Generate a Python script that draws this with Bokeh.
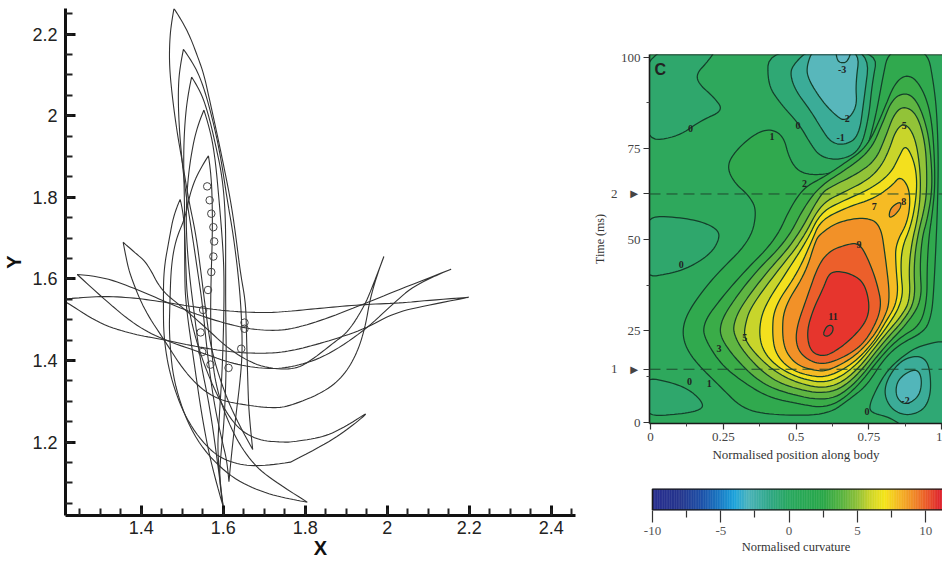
from bokeh.plotting import figure
from bokeh.layouts import row, column
from bokeh.models import SingleIntervalTicker, FixedTicker, NumeralTickFormatter, Span, LinearAxis
from bokeh.embed import file_html
from bokeh.resources import INLINE
from bokeh.core.properties import value

# ---------- left panel: body outlines (x, y), one list per outline ----------
a_x = [1.480,1.500,1.520,1.537,1.553,1.569,1.585,1.602,1.618,1.630,1.642,1.655,1.657,1.660,1.663,1.672,1.630,1.594,1.569,1.557,1.545,1.533,1.516,1.504,1.488,1.476,1.469,1.469,1.473]
a_y = [2.263,2.232,2.192,2.147,2.102,2.029,1.956,1.874,1.793,1.712,1.614,1.542,1.460,1.347,1.265,1.182,1.257,1.347,1.436,1.525,1.623,1.712,1.793,1.866,1.956,2.045,2.118,2.175,2.224]
b_x = [1.503,1.529,1.553,1.577,1.594,1.610,1.624,1.636,1.644,1.647,1.642,1.630,1.620,1.614,1.610,1.598,1.577,1.561,1.549,1.537,1.524,1.511,1.500,1.492,1.490,1.494]
b_y = [2.163,2.127,2.070,1.980,1.899,1.793,1.712,1.618,1.525,1.428,1.355,1.257,1.168,1.103,1.151,1.200,1.298,1.420,1.542,1.623,1.712,1.793,1.883,1.980,2.061,2.118]
c_x = [1.523,1.545,1.565,1.581,1.598,1.606,1.606,1.606,1.608,1.603,1.594,1.590,1.600,1.573,1.549,1.529,1.508,1.506,1.506,1.503,1.506,1.514]
c_y = [2.095,2.061,2.000,1.931,1.850,1.752,1.623,1.525,1.395,1.257,1.168,1.103,1.042,1.135,1.257,1.395,1.542,1.623,1.777,1.891,1.980,2.053]
d_x = [1.553,1.569,1.581,1.590,1.598,1.602,1.602,1.598,1.590,1.585,1.600,1.581,1.565,1.545,1.529,1.516,1.509,1.512,1.522,1.537]
d_y = [2.014,1.964,1.891,1.793,1.696,1.623,1.525,1.379,1.257,1.160,1.042,1.192,1.298,1.395,1.517,1.623,1.728,1.826,1.907,1.976]
e_x = [1.564,1.571,1.574,1.573,1.571,1.569,1.571,1.585,1.626,1.675,1.732,1.805,1.773,1.691,1.610,1.529,1.480,1.468,1.470,1.473,1.484,1.508,1.520,1.541]
e_y = [1.902,1.858,1.761,1.679,1.623,1.525,1.420,1.322,1.216,1.143,1.099,1.053,1.058,1.078,1.119,1.208,1.338,1.460,1.542,1.631,1.696,1.752,1.814,1.866]
f_x = [1.495,1.504,1.508,1.512,1.537,1.577,1.626,1.683,1.748,1.764,1.845,1.902,1.961,1.910,1.845,1.764,1.707,1.642,1.577,1.512,1.472,1.455,1.454,1.455,1.468,1.480]
f_y = [1.795,1.761,1.663,1.542,1.436,1.330,1.241,1.204,1.200,1.200,1.212,1.240,1.279,1.236,1.192,1.151,1.142,1.143,1.168,1.249,1.355,1.452,1.542,1.623,1.696,1.761]
g_x = [1.356,1.382,1.415,1.447,1.496,1.553,1.618,1.691,1.772,1.813,1.870,1.902,1.935,1.959,1.992,1.988,1.959,1.947,1.927,1.894,1.845,1.764,1.724,1.659,1.577,1.512,1.455,1.407,1.374,1.364]
g_y = [1.690,1.667,1.639,1.574,1.534,1.485,1.424,1.383,1.377,1.399,1.444,1.468,1.517,1.566,1.655,1.647,1.557,1.484,1.419,1.362,1.322,1.289,1.283,1.290,1.306,1.363,1.452,1.525,1.607,1.647]
h_x = [1.244,1.301,1.382,1.464,1.545,1.642,1.707,1.764,1.845,1.959,2.049,2.156,2.073,2.016,1.943,1.845,1.764,1.707,1.626,1.545,1.451,1.382,1.301]
h_y = [1.611,1.607,1.578,1.542,1.509,1.481,1.473,1.476,1.500,1.545,1.582,1.624,1.590,1.541,1.472,1.407,1.383,1.379,1.391,1.420,1.452,1.489,1.558]
i_x = [1.205,1.216,1.301,1.382,1.464,1.545,1.626,1.707,1.764,1.845,1.935,2.032,2.105,2.199,2.105,2.016,1.943,1.845,1.764,1.707,1.626,1.545,1.451,1.382,1.301,1.216,1.205]
i_y = [1.551,1.551,1.558,1.554,1.542,1.529,1.520,1.517,1.521,1.529,1.537,1.541,1.548,1.555,1.537,1.517,1.476,1.444,1.423,1.417,1.420,1.432,1.452,1.464,1.489,1.544,1.550]
mark_x = [1.561,1.567,1.571,1.576,1.578,1.576,1.571,1.563,1.551,1.545,1.549,1.569,1.613,1.644,1.652,1.652]
mark_y = [1.827,1.793,1.760,1.727,1.692,1.655,1.617,1.573,1.524,1.469,1.421,1.390,1.382,1.429,1.478,1.493]
outlines = [(a_x,a_y),(b_x,b_y),(c_x,c_y),(d_x,d_y),(e_x,e_y),(f_x,f_y),(g_x,g_y),(h_x,h_y),(i_x,i_y)]

# ---------- right panel: contours (position, time) ----------
zl_a_x = [.229,.195,.157,.166,.218,.252,.172,.092,-.03,-.03,.229]
zl_a_y = [102.5,98.6,95.4,92.6,89.0,85.3,82.6,78.0,76.9,102.5,102.5]
zl_b_x = [-.03,.092,.183,.235,.235,.206,.137,.069,-.03]
zl_b_y = [56.4,56.2,54.8,52.5,49.8,46.1,42.5,40.7,39.5]
zl_c_x = [-.03,.069,.137,.183,.172,.103,-.03]
zl_c_y = [12.4,11.0,8.8,5.1,3.3,2.2,1.5]
zt_x = [.784,.761,.750,.721,.653,.584,.550,.510,.447,.401,.406]
zt_y = [102.5,92.6,83.5,74.4,71.7,72.6,76.2,81.7,87.2,92.6,102.5]
m1t_x = [.756,.733,.716,.664,.618,.584,.550,.498,.479,.492,.550]
m1t_y = [102.5,88.1,78.1,75.8,76.7,80.8,85.3,90.8,95.4,98.1,102.5]
m2t_x = [.721,.704,.710,.670,.630,.584,.538,.538,.561]
m2t_y = [102.5,92.6,86.3,82.2,84.4,88.5,94.5,98.1,102.5]
m3t_x = [.635,.641,.658,.678,.693]
m3t_y = [102.5,99.0,98.3,98.8,102.5]
zb_x = [1.05,.927,.870,.813,.773,.750,.761,.824,.882,1.05]
zb_y = [22.9,21.1,18.3,14.2,8.7,4.2,2.5,1.3,-2.0,-2.0]
m1b_x = [.802,.813,.859,.916,.950,.962,.962,.939,.882,.830]
m1b_y = [7.4,11.9,16.9,18.3,16.9,12.8,7.4,3.3,1.7,3.3]
m2b_x = [.842,.853,.893,.922,.933,.922,.876,.847]
m2b_y = [9.2,11.9,14.2,14.2,11.0,6.9,4.6,6.5]
l1_x = [.819,.796,.773,.739,.687,.607,.550,.504,.475,.458,.418,.366,.298,.261,.286,.338,.366,.344,.229,.172,.126,.109,.120,.160,.240,.321,.435,.607,.687,.744,.802,.859,.939,.962,.973,.990,.985,.973,.950]
l1_y = [102.5,93.6,83.5,73.5,69.4,68.0,67.7,68.9,72.6,78.1,80.3,79.4,74.9,70.3,65.7,62.1,58.0,49.8,40.7,35.2,29.7,25.2,20.6,16.0,9.7,3.3,1.9,1.9,6.5,10.1,17.4,21.5,24.7,28.3,34.7,66.2,83.5,92.6,102.5]
l2_x = [.893,.939,.968,.979,.968,.956,.950,.950,.927,.859,.802,.698,.607,.504,.401,.309,.240,.183,.183,.218,.315,.429,.481,.529,.595,.664,.744,.796,.842]
l2_y = [95.4,90.8,82.6,66.2,57.1,50.7,42.5,33.4,26.5,23.3,19.0,8.4,3.7,5.1,6.9,11.5,16.0,23.3,27.0,31.5,40.7,49.8,58.9,64.4,67.1,70.8,75.3,84.4,93.6]
l3_x = [.876,.916,.950,.964,.968,.950,.933,.925,.933,.882,.802,.698,.607,.447,.366,.286,.240,.240,.269,.355,.469,.527,.584,.676,.756,.796,.830]
l3_y = [90.4,88.1,80.8,72.6,63.5,55.3,50.7,42.5,33.4,27.0,20.5,9.9,5.5,8.3,11.5,17.9,23.3,27.0,31.5,40.7,49.8,58.9,64.8,69.4,74.4,81.7,88.5]
l4_x = [.870,.916,.945,.950,.945,.916,.904,.910,.870,.802,.698,.607,.469,.389,.315,.286,.286,.309,.395,.498,.584,.618,.710,.773,.807,.836]
l4_y = [86.7,84.4,76.2,66.2,59.8,50.7,42.5,33.4,27.9,22.1,11.5,7.4,9.7,13.3,19.7,24.2,27.0,31.5,40.7,49.8,62.5,64.4,68.0,71.7,78.0,84.4]
l5_x = [.874,.910,.927,.927,.916,.899,.887,.893,.859,.802,.698,.607,.492,.412,.349,.321,.326,.344,.429,.521,.584,.664,.744,.790,.819,.842]
l5_y = [82.2,78.0,68.9,61.6,55.3,49.8,42.5,33.4,28.8,23.6,13.0,8.9,11.0,14.7,19.7,23.3,27.0,31.5,40.7,49.8,59.8,63.0,66.2,69.8,74.4,79.9]
l6_x = [.876,.905,.916,.910,.893,.864,.859,.870,.802,.698,.607,.515,.435,.384,.372,.389,.464,.538,.584,.664,.756,.824,.853]
l6_y = [76.2,71.7,66.2,59.8,53.4,47.9,41.6,33.4,24.7,14.6,10.6,11.9,15.1,19.7,25.2,31.5,40.7,49.8,57.5,60.7,63.9,68.0,72.6]
l7_x = [.859,.893,.887,.842,.842,.853,.802,.767,.698,.607,.538,.475,.429,.418,.424,.504,.555,.584,.676,.767,.830]
l7_y = [67.6,63.5,55.3,48.9,43.4,33.4,26.7,22.0,16.1,12.2,12.8,14.7,18.8,24.2,31.5,40.7,49.8,55.3,58.9,61.2,64.8]
l8_x = [.733,.790,.807,.824,.802,.761,.698,.607,.561,.504,.464,.452,.458,.532,.567,.584,.641]
l8_y = [56.2,54.4,45.2,33.4,28.3,22.9,17.7,13.9,14.2,15.6,19.2,24.2,31.5,40.7,49.8,51.6,54.8]
l8b_x = [.819,.824,.842,.861,.859,.842,.824]
l8b_y = [56.6,58.4,59.8,60.3,58.7,56.9,56.0]
l9_x = [.716,.750,.779,.796,.750,.698,.607,.550,.504,.498,.538,.578,.618,.664]
l9_y = [49.3,44.3,37.9,31.1,23.3,19.2,15.8,16.5,19.7,25.2,34.3,43.4,47.0,48.4]
l10_x = [.641,.687,.733,.753,.744,.698,.641,.595,.550,.536,.555,.595,.613]
l10_y = [41.4,40.7,38.4,32.5,27.9,23.4,19.7,17.9,19.2,24.3,30.2,37.0,40.7]
l11_x = [.595,.607,.627,.627,.609,.595]
l11_y = [24.7,26.5,26.5,24.7,23.4,23.8]

# contours in drawing order, with the colour of the band each one encloses
contours = [
    (zl_a_x,zl_a_y,"#2fa76c"),(zl_b_x,zl_b_y,"#2fa76c"),(zl_c_x,zl_c_y,"#2fa76c"),
    (zt_x,zt_y,"#2fa874"),(m1t_x,m1t_y,"#3bac98"),(m2t_x,m2t_y,"#58b7bb"),(m3t_x,m3t_y,"#62bac6"),
    (zb_x,zb_y,"#2fa874"),(m1b_x,m1b_y,"#3bac98"),(m2b_x,m2b_y,"#52b6ba"),
    (l1_x,l1_y,"#30a94e"),(l2_x,l2_y,"#3aac48"),(l3_x,l3_y,"#5fb542"),(l4_x,l4_y,"#92c338"),
    (l5_x,l5_y,"#c8d52b"),(l6_x,l6_y,"#f3e01e"),(l7_x,l7_y,"#f6bb24"),(l8_x,l8_y,"#f29128"),
    (l8b_x,l8b_y,"#f29128"),(l9_x,l9_y,"#ec5f2b"),(l10_x,l10_y,"#e6352d"),(l11_x,l11_y,"#e02a30"),
]
clabel_text = ["0","1","0","2","-3","-2","-1","5","7","8","9","0","11","5","3","0","1","0","-2"]
clabel_x = [.137,.417,.507,.529,.658,.670,.653,.872,.769,.870,.716,.106,.627,.324,.235,.134,.202,.744,.876]
clabel_y = [80.3,78.3,81.2,65.3,96.5,83.3,78.1,81.2,59.2,60.4,48.7,43.2,29.0,23.3,20.1,11.1,10.6,2.8,6.0]
panel_letter = ["C"]
event_times = [62.5, 14.5]
event_names = ["2", "1"]

# ---------- colour bar ----------
cb_values = [-10,-8,-6.5,-5,-4,-3,-1.5,0,2.5,4,5,6,7,8,9,10,11,11.3]
cb_colors = ["#2a2f8f","#27378f","#1f4fa6","#1a7cc6","#1ea4dc","#4cb4bc","#32a98a","#2aa860","#2ba84a","#5fb540","#8fc139","#cfd62a","#f5e51a","#f6bb24","#f29128","#ec5f2b","#e02a30","#de2430"]

SERIF = "Liberation Serif"
SANS = "Liberation Sans"


def rounded(xs, ys, corners=()):
    """Draw a hand-read closed trace as a smooth quadratic curve, keeping sharp corners."""
    n = len(xs)
    out_x, out_y = [], []
    for k in range(n):
        px, py = xs[k - 1], ys[k - 1]
        cx, cy = xs[k], ys[k]
        qx, qy = xs[(k + 1) % n], ys[(k + 1) % n]
        if k in corners:
            out_x.append(cx); out_y.append(cy)
            continue
        ax_, ay_ = ((px + cx) / 2, (py + cy) / 2) if (k - 1) % n not in corners else (px, py)
        bx_, by_ = ((qx + cx) / 2, (qy + cy) / 2) if (k + 1) % n not in corners else (qx, qy)
        for j in range(8):
            t = j / 8
            out_x.append((1 - t) ** 2 * ax_ + 2 * t * (1 - t) * cx + t ** 2 * bx_)
            out_y.append((1 - t) ** 2 * ay_ + 2 * t * (1 - t) * cy + t ** 2 * by_)
    return out_x + out_x[:1], out_y + out_y[:1]


def far_index(xs, ys):
    return max(range(len(xs)), key=lambda k: (xs[k] - xs[0]) ** 2 + (ys[k] - ys[0]) ** 2)


# ================ left figure ================
pl = figure(width=585, height=561, x_range=(1.2154, 2.4593), y_range=(1.0202, 2.263),
            output_backend="svg", toolbar_location=None, min_border_left=65, min_border_right=10,
            min_border_top=8, min_border_bottom=44, outline_line_color=None,
            x_axis_label="X", y_axis_label="Y")
pl.grid.visible = False
for ax in (pl.xaxis[0], pl.yaxis[0]):
    ax.ticker = SingleIntervalTicker(interval=0.2, num_minor_ticks=4)
    ax.formatter = NumeralTickFormatter(format="0.[0]")
    ax.axis_line_width = 3
    ax.axis_line_color = "#111111"
    ax.major_tick_in = 10; ax.major_tick_out = 0
    ax.major_tick_line_width = 3; ax.major_tick_line_color = "#111111"
    ax.minor_tick_in = 7; ax.minor_tick_out = 0
    ax.minor_tick_line_width = 2; ax.minor_tick_line_color = "#222222"
    ax.major_label_text_font = SANS
    ax.major_label_text_font_size = "18px"
    ax.major_label_text_color = "#222222"
    ax.axis_label_text_font = SANS
    ax.axis_label_text_font_size = "20px"
    ax.axis_label_text_font_style = "bold"
    ax.axis_label_text_color = "#111111"
pl.xaxis[0].major_label_standoff = 5
pl.xaxis[0].axis_label_standoff = 0
pl.yaxis[0].major_label_standoff = 8
pl.yaxis[0].axis_label_standoff = 4
for ox, oy in outlines:
    sx, sy = rounded(ox, oy, corners=(0, far_index(ox, oy)))
    pl.line(sx, sy, line_color="#333333", line_width=1.1)
pl.scatter(mark_x, mark_y, marker="circle", size=7.5, fill_color=None, line_color="#444444", line_width=1)

# ================ contour figure ================
pc = figure(width=357, height=465, x_range=(-0.0034, 1.003), y_range=(-0.36, 100.7),
            output_backend="svg", toolbar_location=None, min_border_left=64, min_border_right=0,
            min_border_top=54, min_border_bottom=42, outline_line_color=None,
            background_fill_color="#2ea85c", x_axis_label="Normalised position along body")
pc.grid.visible = False
pc.xaxis[0].ticker = FixedTicker(ticks=[0, .25, .5, .75, 1], minor_ticks=[.125, .375, .625, .875])
pc.yaxis[0].ticker = FixedTicker(ticks=[0, 25, 50, 75, 100] + event_times, minor_ticks=[12.5, 37.5, 87.5])
pc.xaxis[0].major_label_overrides = {0: "0", 0.25: "0.25", 0.5: "0.5", 0.75: "0.75", 1: "1"}
pc.yaxis[0].major_label_overrides = {t: "\u25ba" for t in event_times}
for ax in (pc.xaxis[0], pc.yaxis[0]):
    ax.axis_line_width = 1.6; ax.axis_line_color = "#1a1a1a"
    ax.major_tick_out = 6; ax.major_tick_in = 0; ax.major_tick_line_color = "#333333"; ax.major_tick_line_width = 1.2
    ax.minor_tick_out = 3; ax.minor_tick_in = 0; ax.minor_tick_line_color = "#444444"
    ax.major_label_text_font = SERIF; ax.major_label_text_font_size = "13px"; ax.major_label_text_color = "#444444"
    ax.major_label_standoff = 3
pc.xaxis[0].axis_label_standoff = 3
pc.xaxis[0].axis_label_text_font = SERIF; pc.xaxis[0].axis_label_text_font_size = "13px"
pc.xaxis[0].axis_label_text_font_style = "normal"; pc.xaxis[0].axis_label_text_color = "#333333"
outer = LinearAxis(axis_label="Time (ms)", ticker=FixedTicker(ticks=event_times),
                   major_label_overrides=dict(zip(event_times, event_names)),
                   axis_line_color=None, major_tick_line_color=None, minor_tick_line_color=None,
                   major_tick_out=0, major_tick_in=0, minor_tick_out=0, minor_tick_in=0, major_label_standoff=0,
                   major_label_text_font=SERIF, major_label_text_font_size="13px", major_label_text_color="#444444",
                   axis_label_text_font=SERIF, axis_label_text_font_size="12px", axis_label_text_font_style="normal",
                   axis_label_text_color="#333333", axis_label_standoff=1)
pc.add_layout(outer, "left")
for cx, cy, col in contours:
    sx, sy = rounded(cx, cy)
    pc.patch(sx, sy, fill_color=col, line_color=None)
    pc.line(sx, sy, line_color="#143f2b", line_width=1.25)
pc.text(clabel_x, clabel_y, text=clabel_text, text_font=value(SERIF), text_font_style="bold", text_font_size="10px",
        text_color="#222222", text_align="center", text_baseline="middle")
pc.text([.034], [96.5], text=panel_letter, text_font=value(SANS), text_font_style="bold", text_font_size="16px",
        text_color="#222222", text_align="center", text_baseline="middle")
pc.add_layout(Span(location=100.7, dimension="width", line_color="#1a1a1a", line_width=1.6))
for t in event_times:
    pc.add_layout(Span(location=t, dimension="width", line_color="#1f4a30", line_width=1, line_dash="11 6"))

# ================ colour bar figure ================
pb = figure(width=357, height=96, x_range=(-10.22, 11.23), y_range=(-0.02, 1.02),
            output_backend="svg", toolbar_location=None, min_border_left=64, min_border_right=0,
            min_border_top=23, min_border_bottom=51, outline_line_color=None,
            x_axis_label="Normalised curvature")
pb.grid.visible = False
pb.yaxis.visible = False
ax = pb.xaxis[0]
ax.ticker = FixedTicker(ticks=[-10, -5, 0, 5, 10], minor_ticks=[-7.5, -2.5, 2.5, 7.5])
ax.major_label_overrides = {-10: "-10", -5: "-5", 0: "0", 5: "5", 10: "10"}
ax.major_tick_out = 12; ax.major_tick_in = 0; ax.major_tick_line_color = "#333333"; ax.major_tick_line_width = 1.2
ax.minor_tick_out = 7; ax.minor_tick_in = 0; ax.minor_tick_line_color = "#333333"; ax.minor_tick_line_width = 1.2
ax.axis_line_color = None
ax.major_label_text_font = SERIF; ax.major_label_text_font_size = "13px"; ax.major_label_text_color = "#555555"
ax.major_label_standoff = 4
ax.axis_label_text_font = SERIF; ax.axis_label_text_font_size = "12.5px"; ax.axis_label_text_font_style = "normal"
ax.axis_label_text_color = "#333333"; ax.axis_label_standoff = 2


def hex_rgb(h):
    return [int(h[i:i + 2], 16) for i in (1, 3, 5)]


left, right, fills = [], [], []
for k in range(len(cb_values) - 1):
    v0, v1 = cb_values[k], cb_values[k + 1]
    c0, c1 = hex_rgb(cb_colors[k]), hex_rgb(cb_colors[k + 1])
    n = max(2, int((v1 - v0) * 8))
    for j in range(n):
        f = (j + .5) / n
        left.append(v0 + (v1 - v0) * j / n)
        right.append(v0 + (v1 - v0) * (j + 1) / n)
        fills.append("#%02x%02x%02x" % tuple(int(a + (b - a) * f) for a, b in zip(c0, c1)))
pb.quad(left=left, right=right, bottom=0, top=1, fill_color=fills, line_color=fills, line_width=0.5)
pb.quad(left=[cb_values[0]], right=[cb_values[-1]], bottom=[0], top=[1], fill_color=None, line_color="#1a1a1a", line_width=1.6)

layout = row(pl, column(pc, pb))
open("out.html", "w").write(file_html(layout, INLINE))
